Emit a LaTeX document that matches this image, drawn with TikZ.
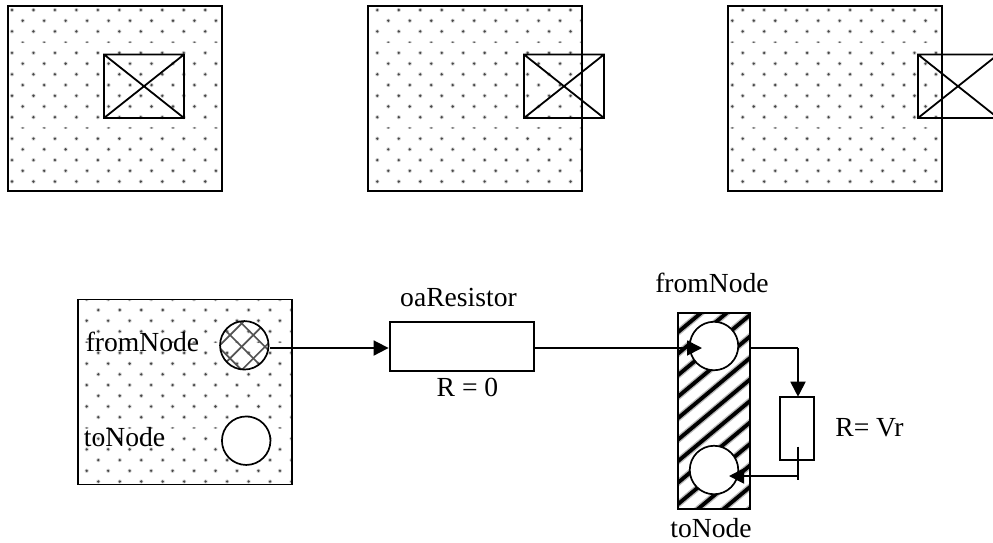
\documentclass[tikz,border=0pt]{standalone}
\usepackage{fontspec}
\setmainfont{Liberation Serif}
\usetikzlibrary{arrows.meta}
\definecolor{dotc}{gray}{0.28}
\definecolor{halo}{gray}{0.82}
\tikzset{
  x=1pt,y=-1pt,
  outline/.style={draw=black,line width=1.9pt},
  thin line/.style={draw=black,line width=1.8pt},
  wire/.style={draw=black,line width=1.8pt},
  arrowed/.style={wire,-{Triangle[length=15pt,width=15pt]}},
  label/.style={inner sep=0pt,font=\fontsize{27.6}{30}\selectfont,anchor=base},
  ring/.style={circle,draw=black,line width=1.7pt,minimum size=48.5pt,inner sep=0pt},
}
% #1,#2 left/top; #3,#4 right/bottom; #5 x of even rows; #6 x of odd rows; #7 first row y
\newcommand{\dotfield}[7]{%
  \begin{scope}
    \clip (#1,#2) rectangle (#3,#4);
    \foreach \r in {-1,...,18}{%
      \pgfmathsetmacro{\yy}{#7+\r*10.72}%
      \pgfmathsetmacro{\xs}{(mod(\r+2,2)==0)?#5:#6}%
      \pgfmathsetmacro{\sq}{(mod(\r+16,8)==3)?0.5:1}%
      \foreach \c in {-1,...,11}{%
        \fill[halo] ({\xs+\c*21.47},\yy) ellipse [x radius=2.1,y radius={2.1*\sq}];
        \fill[dotc] ({\xs+\c*21.47},\yy) ellipse [x radius=1.3,y radius={1.3*\sq}];
      }%
    }%
  \end{scope}}
\begin{document}
\begin{tikzpicture}
\useasboundingbox (0,0) rectangle (993,542);
\fill[white] (0,0) rectangle (993,542);
% top row
\dotfield{8}{6}{222}{191}{12}{22.7}{10}
\draw[outline] (8,6) rectangle (222,191);
\coordinate (a1) at (104,54.5); \coordinate (a2) at (184,118);
\draw[thin line] (a1) rectangle (a2) (a1) -- (a2) (a1 |- a2) -- (a2 |- a1);
\dotfield{368}{6}{582}{191}{377.3}{388.3}{10}
\draw[outline] (368,6) rectangle (582,191);
\coordinate (b1) at (524,54.5); \coordinate (b2) at (604,118);
\draw[thin line] (b1) rectangle (b2) (b1) -- (b2) (b1 |- b2) -- (b2 |- b1);
\dotfield{728}{6}{942}{191}{742.7}{732.3}{10}
\draw[outline] (728,6) rectangle (942,191);
\coordinate (c1) at (918,54.5); \coordinate (c2) at (998,118);
\draw[thin line] (c1) rectangle (c2) (c1) -- (c2) (c1 |- c2) -- (c2 |- c1);
% left box
\dotfield{78}{299.5}{292}{484.5}{98.3}{86.7}{310}
\draw[outline] (78,299.5) rectangle (292,484.5);
\node[label] (ft) at (142.5,351.5) {fromNode};
\node[label] (tt) at (124.5,446.5) {toNode};
\coordinate (f1) at (244.3,345.3);
\begin{scope}
  \clip (f1) circle (24);
  \foreach \k in {-4,...,4}{%
    \draw[gray!65!black,line width=1.7pt] (241.7+\k*23.3-50,346.7-50) -- ++(100,100);
    \draw[gray!65!black,line width=1.7pt] (241.7+\k*23.3-50,346.7+50) -- ++(100,-100);
  }
\end{scope}
\node[ring] (fromL) at (f1) {};
\node[ring,fill=white] (toL) at (246.2,440.7) {};
% resistor
\node[draw=black,line width=1.9pt,minimum width=144.5pt,minimum height=49pt,inner sep=0pt] (res) at (461.8,346.2) {};
\node[label] (rname) at (458.5,306) {oaResistor};
\node[label] (rval) at (467.5,396.7) {R = 0};
\coordinate (w1) at (270,348);
\draw[arrowed] (w1) -- (res.west |- w1);
% hatched bar
\begin{scope}
  \clip (678,313) rectangle (750,509);
  \foreach \k in {-3,...,16}{%
    \draw[gray!55,line width=6.5pt] (660,325.7+\k*21.5) -- ++(110,-92);
    \draw[black,line width=3.8pt] (660,325.7+\k*21.5) -- ++(110,-92);
  }
\end{scope}
\draw[outline] (678,313) rectangle (750,509);
\node[ring,fill=white] (fromR) at (714,346) {};
\node[ring,fill=white] (toR) at (714,470) {};
\coordinate (arrTip) at (702,348);
\draw[arrowed] (res.east |- arrTip) -- (arrTip);
\node[label] (fn2) at (712,292.7) {fromNode};
\node[label] (tn2) at (711,537) {toNode};
% small resistor
\node[draw=black,line width=1.7pt,minimum width=33.5pt,minimum height=63.6pt,inner sep=0pt] (rs) at (797,428.5) {};
\coordinate (o1) at (750,348);
\coordinate (o4) at (798,348);
\coordinate (o5) at (798,396.7);
\draw[draw=black,line width=1.3pt] (o1) -- (o4);
\draw[arrowed] (o4) -- (o5);
\coordinate (o2) at (798,446.5);
\coordinate (o3) at (798,480);
\draw[wire] (o2) -- (o3);
\coordinate (o6) at (798,476);
\coordinate (o7) at (729,476);
\draw[arrowed] (o6) -- (o7);
\node[label] (rv) at (869.5,436.7) {R= Vr};
\end{tikzpicture}
\end{document}
